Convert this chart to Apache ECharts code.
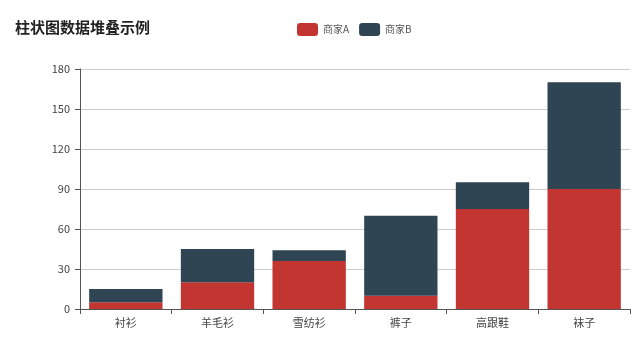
<!DOCTYPE html>
<html>
<head>
<meta charset="utf-8">
<script src="https://cdn.jsdelivr.net/npm/echarts@6/dist/echarts.min.js"></script>
<style>
  html, body { margin: 0; padding: 0; background: #fff; }
  #chart { width: 640px; height: 339px; }
</style>
</head>
<body>
<div id="chart"></div>
<script>
// Product categories and stacked sales per merchant
const categories = ['衬衫', '羊毛衫', '雪纺衫', '裤子', '高跟鞋', '袜子'];
const sellerA = [5, 20, 36, 10, 75, 90];
const sellerB = [10, 25, 8, 60, 20, 80];
const seriesNames = ['商家A', '商家B'];
const yTicks = [0, 30, 60, 90, 120, 150, 180];

const chart = echarts.init(document.getElementById('chart'), null, { renderer: 'canvas' });
const font = '"Microsoft YaHei", "Noto Sans CJK SC", sans-serif';

chart.setOption({
  animation: false,
  title: {
    text: '柱状图数据堆叠示例',
    left: 10,
    top: 15,
    textStyle: { fontSize: 15, fontWeight: 'bold', color: '#222', fontFamily: font }
  },
  legend: {
    data: seriesNames,
    left: 292,
    top: 18,
    itemWidth: 21,
    itemHeight: 13,
    itemGap: 10,
    textStyle: { fontSize: 10, color: '#555', fontFamily: font }
  },
  grid: { left: 80, right: 10, top: 69, bottom: 30 },
  xAxis: {
    type: 'category',
    data: categories,
    axisLine: { lineStyle: { color: '#555' } },
    axisTick: { show: true, alignWithLabel: false, lineStyle: { color: '#555' } },
    axisLabel: { fontSize: 11, color: '#444', fontFamily: font, margin: 8 }
  },
  yAxis: {
    type: 'value',
    min: yTicks[0],
    max: yTicks[yTicks.length - 1],
    interval: yTicks[1] - yTicks[0],
    axisLine: { show: true, lineStyle: { color: '#555' } },
    axisTick: { show: true, lineStyle: { color: '#555' } },
    axisLabel: { fontSize: 11, color: '#444', fontFamily: font, margin: 10 },
    splitLine: { lineStyle: { color: '#ccc' } }
  },
  series: [
    {
      name: seriesNames[0],
      type: 'bar',
      stack: 'total',
      data: sellerA,
      barCategoryGap: '20%',
      itemStyle: { color: '#c23531' }
    },
    {
      name: seriesNames[1],
      type: 'bar',
      stack: 'total',
      data: sellerB,
      itemStyle: { color: '#2f4554' }
    }
  ]
});
</script>
</body>
</html>
